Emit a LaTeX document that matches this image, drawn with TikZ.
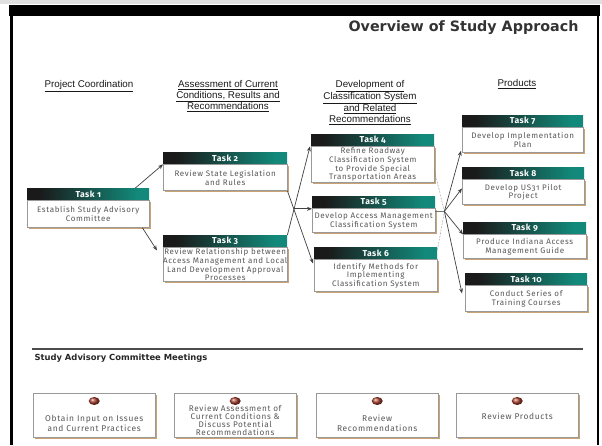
\documentclass[tikz,border=0pt]{standalone}
\usepackage{fontspec}
\setmainfont{Fira Sans}
\newfontfamily\bodyfont{Fira Sans}[LetterSpace=8,Numbers=OldStyle]
\newfontfamily\taskfont{Fira Sans}[LetterSpace=5,Numbers=OldStyle]
\newfontfamily\colfont{Liberation Sans}
\newfontfamily\titlefont{DejaVu Sans}
\usetikzlibrary{arrows.meta,positioning,calc,shadows,shapes.geometric}

\definecolor{taskteal}{HTML}{12897A}
\definecolor{taskdark}{HTML}{1A1A1A}
\definecolor{shadowtan}{HTML}{C9A373}
\definecolor{bodygray}{HTML}{585858}
\definecolor{dotred}{HTML}{A8402F}
\pgfdeclarehorizontalshading{taskbar}{100bp}{color(0bp)=(taskdark); color(30bp)=(taskdark); color(70bp)=(taskteal); color(100bp)=(taskteal)}

\tikzset{
  taskhead/.style={anchor=north west, inner sep=0pt, shading=taskbar,
    text=white, font=\taskfont\bfseries\fontsize{8.6}{8.6}\selectfont},
  taskbody/.style={draw=black!40, fill=white, inner sep=0pt, align=center,
    text=bodygray, font=\bodyfont\fontsize{8}{8.7}\selectfont,
    drop shadow={shadow xshift=1.8pt, shadow yshift=-1.8pt, fill=shadowtan, opacity=1}},
  colhead/.style={anchor=north, align=center, text=black!90,
    font=\colfont\fontsize{9.8}{10.8}\selectfont},
  conn/.style={draw=black!75, line width=0.7pt, -{Stealth[length=5pt,width=4pt]}},
  feed/.style={draw=black!55, line width=0.5pt, densely dotted},
  meetbox/.style={anchor=north west, draw=black!40, fill=white,
    minimum width=122, minimum height=44,
    drop shadow={shadow xshift=1.8pt, shadow yshift=-1.8pt, fill=shadowtan, opacity=1}},
  meetdot/.style={ellipse, minimum width=11pt, minimum height=8pt, inner sep=0pt, ball color=dotred},
  meettext/.style={align=center, text=bodygray, font=\bodyfont\fontsize{8.4}{10}\selectfont},
}

% id, x, y, width, body height, number, text
\newcommand\taskbox[7]{%
  \node[taskhead, minimum width=#4, minimum height=12] (#1h) at (#2,#3) {Task #6};
  \node[taskbody, minimum width=#4, minimum height=#5, anchor=north west] (#1) at (#1h.south west) {#7};
}

\begin{document}
\begin{tikzpicture}[x=1pt, y=-1pt]
\useasboundingbox (0,0) rectangle (602,445);

% frame
\fill[black!12] (0,0) rectangle (602,4);
\fill[black] (9,5) rectangle (600,16);
\fill[black] (10,16) rectangle (12.5,445);
\fill[black] (596.5,16) rectangle (599,445);

\node[anchor=base east, text=black!80, font=\titlefont\bfseries\fontsize{14.3}{14}\selectfont]
  (title) at (582,31) {Overview of Study Approach};

% column headings
\node[colhead] (coord) at (89,77) {\underline{Project Coordination}};
\node[colhead] (assess) at (228,77) {\underline{Assessment of Current}\\\underline{Conditions, Results and}\\\underline{Recommendations}};
\node[colhead] (devel) at (370,77) {\underline{Development of}\\\underline{Classification System}\\\underline{and Related}\\\underline{Recommendations}};
\node[colhead] (prod) at (517,76) {\underline{Products}};

% tasks
\taskbox{t1}{27}{188}{122}{27}{1}{Establish Study Advisory\\Committee}
\taskbox{t2}{163}{152}{124}{26}{2}{Review State Legislation\\and Rules}
\taskbox{t3}{163}{235}{124}{34}{3}{Review Relationship between\\Access Management and Local\\Land Development Approval\\Processes}
\taskbox{t4}{311}{134}{123}{36}{4}{Refine Roadway\\Classification System\\to Provide Special\\Transportation Areas}
\taskbox{t5}{312}{196}{123}{24}{5}{Develop Access Management\\Classification System}
\taskbox{t6}{314}{247}{123}{32}{6}{Identify Methods for\\Implementing\\Classification System}
\taskbox{t7}{462}{115}{121}{25}{7}{Develop Implementation\\Plan}
\taskbox{t8}{462}{167}{122}{25}{8}{Develop US31 Pilot\\Project}
\taskbox{t9}{463}{222}{123}{24}{9}{Produce Indiana Access\\Management Guide}
\taskbox{t10}{465}{273}{122}{26}{10}{Conduct Series of\\Training Courses}

% connectors
\draw[conn] ([xshift=-14pt]t1h.north east) -- (t2h.south west);
\draw[conn] ([xshift=-7pt]t1.south east) -- ([xshift=-6pt,yshift=-3pt]t3h.south west);
\draw[conn] (t2.south east) -- ([xshift=-1pt,yshift=-4pt]t6.north west);
\draw[conn] (t3h.north east) -- ([xshift=-1pt]t4h.south west);
\coordinate (hubL) at (intersection of t2.south east--t6.north west and t3h.north east--t4h.south west);
\draw[conn] (hubL) -- (hubL -| t5.west);

\coordinate (hubR) at ([xshift=9pt,yshift=-3pt]t5.north east);
\draw[feed] ([yshift=-6pt]t4.east) -- (hubR);
\draw[feed] ([yshift=-3pt]t6h.north east) -- (hubR);
\draw[draw=black!55, line width=0.5pt] ([yshift=-3pt]t5.north east) -- (hubR);
\draw[conn] (hubR) -- ([xshift=-1pt,yshift=2pt]t7.south west);
\draw[conn] (hubR) -- ([yshift=-9pt]t8.north west);
\draw[conn] (hubR) -- (t9h.south west);
\draw[conn] (hubR) -- ([xshift=-3pt,yshift=-8pt]t10.north west);

% meetings
\draw[line width=1.6pt, black!70] (32,349) -- (583,349);
\node[anchor=west, text=black!85, font=\titlefont\bfseries\fontsize{8.4}{8}\selectfont]
  (meetings) at (31,358) {Study Advisory Committee Meetings};

\node[meetbox] (m1) at (33,393) {};
\node[meetbox] (m2) at (174,393) {};
\node[meetbox] (m3) at (316,393) {};
\node[meetbox] (m4) at (456,393) {};
\foreach \m in {m1,m2,m3,m4}
  \node[meetdot] (\m d) at ([yshift=-8pt]\m.north) {};

\node[meettext] (m1t) at ([yshift=-30pt]m1.north) {Obtain Input on Issues\\and Current Practices};
\node[meettext, font=\bodyfont\fontsize{8.2}{7.9}\selectfont] (m2t) at ([yshift=-27pt]m2.north) {Review Assessment of\\Current Conditions \&\\Discuss Potential\\Recommendations};
\node[meettext] (m3t) at ([yshift=-30pt]m3.north) {Review\\Recommendations};
\node[meettext] (m4t) at ([yshift=-23pt]m4.north) {Review Products};
\end{tikzpicture}
\end{document}
